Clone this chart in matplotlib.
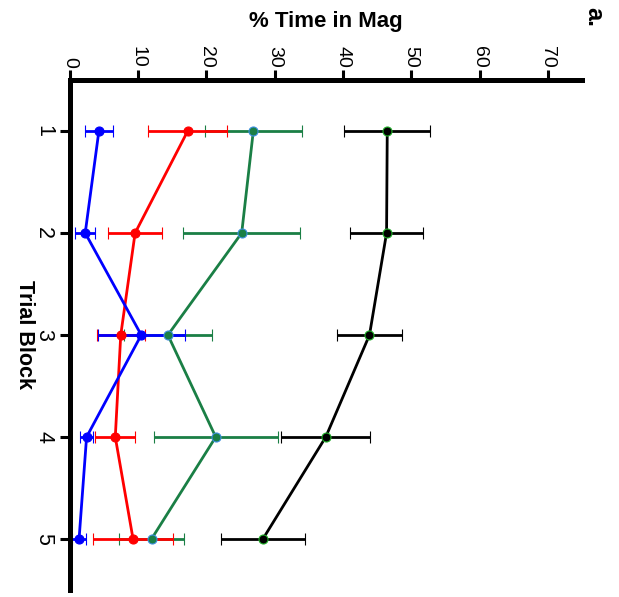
import numpy as np
import matplotlib.pyplot as plt

plt.rcParams['font.family'] = ['Liberation Sans', 'DejaVu Sans']

blocks = [1, 2, 3, 4, 5]
tick_vals = [0, 10, 20, 30, 40, 50, 60, 70]

black_mean = [46.5, 46.4, 43.9, 37.5, 28.3]
black_sem = [6.3, 5.4, 4.8, 6.5, 6.2]
green_mean = [26.9, 25.2, 14.4, 21.4, 12.0]
green_sem = [7.1, 8.6, 6.4, 9.1, 4.7]
red_mean = [17.3, 9.6, 7.5, 6.7, 9.3]
red_sem = [5.8, 4.0, 3.5, 2.9, 5.9]
blue_mean = [4.3, 2.3, 10.5, 2.5, 1.4]
blue_sem = [2.0, 1.5, 6.4, 1.0, 1.0]

series = [
    (black_mean, black_sem, 'black', '#22b02a'),
    (green_mean, green_sem, '#1a7f45', '#3d8fe0'),
    (red_mean, red_sem, '#ff0000', '#ff0000'),
    (blue_mean, blue_sem, '#0000ff', '#0000ff'),
]

W, H = 619, 597
left, right, top, bottom = 69.5, 582, 80, 590

fig = plt.figure(figsize=(W/100, H/100), dpi=100)
ax = fig.add_axes([left/W, 1 - bottom/H, (right-left)/W, (bottom-top)/H])

for mean, sem, col, edge in series:
    ax.errorbar(mean, blocks, xerr=sem, color=col, lw=2.0, marker='o', markersize=6.5,
                markerfacecolor=col, markeredgecolor=edge, markeredgewidth=0.8,
                capsize=4, capthick=2.2, elinewidth=2.0)

ax.set_xlim(0, 75)
ax.set_ylim(5.5, 0.5)
ax.xaxis.tick_top()
ax.xaxis.set_label_position('top')
ax.set_xticks(tick_vals)
ax.set_xticklabels([str(v) for v in tick_vals], rotation=-90, fontsize=14)
ax.set_yticks(blocks)
ax.set_yticklabels([str(b) for b in blocks], rotation=-90, fontsize=15.5, va='center')
ax.tick_params(width=2.2, length=7, direction='out')
ax.tick_params(axis='x', pad=2)
ax.tick_params(axis='y', pad=4)

for s in ['right', 'bottom']:
    ax.spines[s].set_visible(False)
for s in ['top', 'left']:
    ax.spines[s].set_linewidth(3.6)

ax.set_xlabel('% Time in Mag', fontsize=16, fontweight='bold', va='center')
ax.xaxis.set_label_coords(0.5, 1 + (top - 21) / (bottom - top))
ax.set_ylabel('Trial Block', fontsize=15.5, fontweight='bold', rotation=-90, va='center', ha='center')
ax.yaxis.set_label_coords((24 - left) / (right - left), 0.5)
fig.text(594/W, 1 - 17/H, 'a.', rotation=-90, fontsize=17, fontweight='bold', ha='center', va='center')

plt.savefig('out.png', dpi=100)
